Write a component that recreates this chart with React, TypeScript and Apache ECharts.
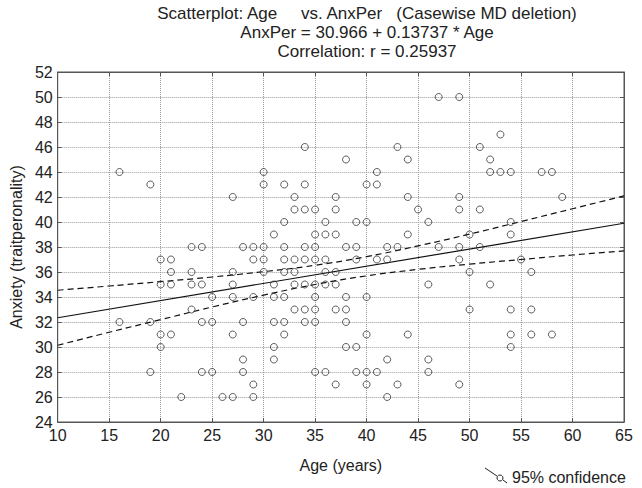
import React, { useEffect, useRef } from "react";
import * as echarts from "echarts";

// Anxiety score levels and the ages of the cases observed at each level
const anxietyLevels = [50, 47, 46, 45, 44, 43, 42, 41, 40, 39, 38, 37, 36, 35, 34, 33, 32, 31, 30, 29, 28, 27, 26];
const agesByLevel = [
  [47, 49],
  [53],
  [34, 43, 51],
  [38, 44, 52],
  [16, 30, 41, 52, 53, 54, 57, 58],
  [19, 30, 32, 34, 40, 41],
  [27, 33, 37, 44, 49, 59],
  [33, 34, 35, 37, 45, 49, 51],
  [32, 36, 39, 40, 46, 54],
  [31, 35, 36, 37, 44, 50, 54],
  [23, 24, 28, 29, 30, 32, 34, 35, 38, 39, 42, 43, 47, 49, 51],
  [20, 21, 29, 30, 32, 33, 34, 35, 36, 39, 41, 42, 49, 55],
  [21, 23, 27, 30, 32, 33, 36, 37, 50, 56],
  [20, 21, 23, 24, 27, 31, 33, 34, 35, 36, 37, 46, 52],
  [25, 27, 29, 31, 32, 35, 38, 40],
  [23, 33, 34, 35, 37, 38, 50, 54, 56],
  [16, 19, 24, 25, 28, 31, 32, 34, 35, 38],
  [20, 21, 27, 32, 40, 44, 54, 56, 58],
  [20, 31, 38, 39, 54],
  [28, 31, 42, 46],
  [19, 24, 25, 28, 35, 36, 39, 40, 41, 46],
  [29, 37, 40, 43, 49],
  [22, 26, 27, 29, 42],
];

// Regression line end points (from AnxPer = 30.966 + 0.13737 * Age)
const fitAges = [10, 65];
const fitValues = [32.34, 39.9];

// 95% confidence band
const bandAges = [10, 15, 20, 25, 30, 35, 40, 45, 50, 55, 60, 65];
const bandUpper = [34.54, 34.88, 35.23, 35.6, 36.03, 36.54, 37.23, 38.09, 39.03, 40.04, 41.06, 42.09];
const bandLower = [30.14, 31.18, 32.19, 33.2, 34.15, 35.0, 35.69, 36.21, 36.63, 37.0, 37.36, 37.69];

const titleLines = [
  "Scatterplot: Age     vs. AnxPer   (Casewise MD deletion)",
  "AnxPer = 30.966 + 0.13737 * Age",
  "Correlation: r = 0.25937",
];

const FONT = "Liberation Sans, Arial, sans-serif";

export default function App() {
  const ref = useRef<HTMLDivElement>(null);
  useEffect(() => {
    document.body.style.margin = "0";
    if (!ref.current) return;
    const chart = echarts.init(ref.current, undefined, { renderer: "svg" });
    const points: number[][] = [];
    anxietyLevels.forEach((lvl, i) => {
      agesByLevel[i].forEach((a) => points.push([a, lvl]));
    });
    const tickStyle = { fontSize: 16, color: "#222", fontFamily: FONT };
    const gridLine = { show: true, lineStyle: { type: "dotted" as const, color: "#999", width: 1 } };
    chart.setOption({
      animation: false,
      backgroundColor: "#fff",
      grid: { left: 57, right: 18, top: 72, bottom: 66, show: true, borderColor: "#555", borderWidth: 1 },
      xAxis: [
        {
          type: "value",
          min: 10,
          max: 65,
          interval: 5,
          name: "Age (years)",
          nameLocation: "middle",
          nameGap: 35,
          nameTextStyle: { fontSize: 16, color: "#222", fontFamily: FONT },
          axisLine: { show: true, lineStyle: { color: "#555", width: 1 } },
          axisTick: { show: true, inside: true, length: 4, lineStyle: { color: "#555" } },
          axisLabel: { ...tickStyle, margin: 5 },
          splitLine: gridLine,
        },
        {
          type: "value",
          position: "top",
          min: 10,
          max: 65,
          interval: 5,
          axisLine: { show: true, lineStyle: { color: "#555", width: 1 } },
          axisTick: { show: true, inside: true, length: 4, lineStyle: { color: "#555" } },
          axisLabel: { show: false },
          splitLine: { show: false },
        },
      ],
      yAxis: [
        {
          type: "value",
          min: 24,
          max: 52,
          interval: 2,
          name: "Anxiety (traitperonality)",
          nameLocation: "middle",
          nameGap: 30,
          nameTextStyle: { fontSize: 16, color: "#222", fontFamily: FONT },
          axisLine: { show: true, lineStyle: { color: "#555", width: 1 } },
          axisTick: { show: true, inside: true, length: 4, lineStyle: { color: "#555" } },
          axisLabel: { ...tickStyle, margin: 5 },
          splitLine: gridLine,
        },
        {
          type: "value",
          position: "right",
          min: 24,
          max: 52,
          interval: 2,
          axisLine: { show: true, lineStyle: { color: "#555", width: 1 } },
          axisTick: { show: true, inside: true, length: 4, lineStyle: { color: "#555" } },
          axisLabel: { show: false },
          splitLine: { show: false },
        },
      ],
      series: [
        {
          type: "line",
          data: bandAges.map((a, i) => [a, bandUpper[i]]),
          smooth: true,
          symbol: "none",
          lineStyle: { color: "#111", width: 1.2, type: [6, 4] },
          z: 2,
        },
        {
          type: "line",
          data: bandAges.map((a, i) => [a, bandLower[i]]),
          smooth: true,
          symbol: "none",
          lineStyle: { color: "#111", width: 1.2, type: [6, 4] },
          z: 2,
        },
        {
          type: "line",
          data: fitAges.map((a, i) => [a, fitValues[i]]),
          symbol: "none",
          lineStyle: { color: "#111", width: 1.2 },
          z: 2,
        },
        {
          type: "scatter",
          data: points,
          symbol: "circle",
          symbolSize: 7,
          itemStyle: { color: "rgba(0,0,0,0)", borderColor: "#333", borderWidth: 1 },
          z: 3,
        },
      ],
      graphic: [
        {
          type: "text",
          x: 367,
          y: 4,
          style: {
            text: titleLines.join("\n"),
            font: `17px ${FONT}`,
            fill: "#222",
            textAlign: "center",
            lineHeight: 19,
          },
        },
        { type: "line", shape: { x1: 485, y1: 468, x2: 497, y2: 476 }, style: { stroke: "#222", lineWidth: 1 } },
        { type: "circle", shape: { cx: 500, cy: 478, r: 3 }, style: { fill: "none", stroke: "#222", lineWidth: 1 } },
        { type: "line", shape: { x1: 503, y1: 480, x2: 507, y2: 483 }, style: { stroke: "#222", lineWidth: 1 } },
        {
          type: "text",
          x: 512,
          y: 477,
          style: { text: "95% confidence", font: `16px ${FONT}`, fill: "#222", textVerticalAlign: "middle" },
        },
      ],
    });
    return () => chart.dispose();
  }, []);
  return <div ref={ref} style={{ width: 642, height: 488 }} />;
}
